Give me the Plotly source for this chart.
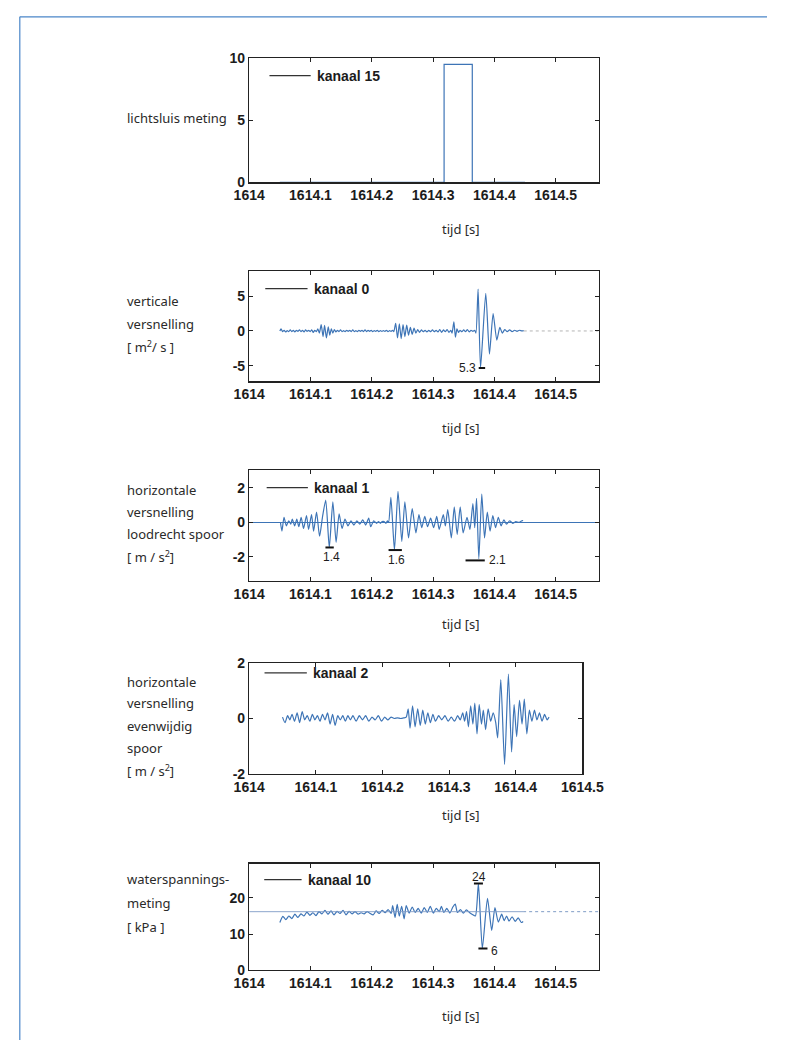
import plotly.graph_objects as go

# ---------------- data ----------------
X_TICKS = [1614.0, 1614.1, 1614.2, 1614.3, 1614.4, 1614.5]
X_TICK_TEXT = ["1614", "1614.1", "1614.2", "1614.3", "1614.4", "1614.5"]

# kanaal 15 - lichtsluis meting
k15_t = [1614.050, 1614.318, 1614.318, 1614.364, 1614.364, 1614.450]
k15_v = [0, 0, 9.5, 9.5, 0, 0]

# kanaal 0 - verticale versnelling
k0_t = [1614.0500, 1614.0520, 1614.0545, 1614.0570, 1614.0595, 1614.0620, 1614.0645, 1614.0670,
        1614.0695, 1614.0720, 1614.0745, 1614.0770, 1614.0795, 1614.0820, 1614.0845, 1614.0870,
        1614.0895, 1614.0920, 1614.0945, 1614.0970, 1614.0995, 1614.1020, 1614.1045, 1614.1070,
        1614.1095, 1614.1120, 1614.1145, 1614.1175, 1614.1205, 1614.1230, 1614.1260, 1614.1290,
        1614.1315, 1614.1340, 1614.1365, 1614.1390, 1614.1415, 1614.1440, 1614.1465, 1614.1490,
        1614.1515, 1614.1540, 1614.1565, 1614.1590, 1614.1615, 1614.1640, 1614.1665, 1614.1690,
        1614.1715, 1614.1740, 1614.1765, 1614.1790, 1614.1815, 1614.1840, 1614.1865, 1614.1890,
        1614.1915, 1614.1940, 1614.1965, 1614.1990, 1614.2015, 1614.2040, 1614.2065, 1614.2090,
        1614.2115, 1614.2140, 1614.2165, 1614.2190, 1614.2215, 1614.2240, 1614.2265, 1614.2290,
        1614.2315, 1614.2340, 1614.2360, 1614.2390, 1614.2420, 1614.2450, 1614.2480, 1614.2510,
        1614.2540, 1614.2570, 1614.2600, 1614.2630, 1614.2660, 1614.2690, 1614.2720, 1614.2750,
        1614.2780, 1614.2810, 1614.2840, 1614.2870, 1614.2900, 1614.2930, 1614.2960, 1614.2990,
        1614.3020, 1614.3050, 1614.3080, 1614.3110, 1614.3140, 1614.3170, 1614.3200, 1614.3230,
        1614.3260, 1614.3290, 1614.3310, 1614.3340, 1614.3365, 1614.3390, 1614.3415, 1614.3440,
        1614.3470, 1614.3500, 1614.3530, 1614.3560, 1614.3590, 1614.3620, 1614.3650, 1614.3680,
        1614.3700, 1614.3735, 1614.3775, 1614.3860, 1614.3920, 1614.3980, 1614.4040, 1614.4090,
        1614.4130, 1614.4170, 1614.4210, 1614.4250, 1614.4290, 1614.4330, 1614.4370, 1614.4410,
        1614.4450, 1614.4480]
k0_v = [0.0, 0.3, -0.1, 0.1, -0.15, 0.05, -0.1, 0.15,
        -0.1, 0.1, -0.15, 0.1, -0.05, 0.15, -0.1, 0.1,
        -0.15, 0.15, -0.05, 0.1, -0.1, 0.15, -0.2, 0.1,
        -0.1, 0.3, -0.3, 0.9, -0.8, 0.8, -1.0, 0.6,
        -0.6, 0.3, -0.3, 0.2, -0.15, 0.1, -0.1, 0.15,
        -0.1, 0.05, -0.1, 0.1, -0.05, 0.1, -0.1, 0.15,
        -0.1, 0.05, -0.1, 0.1, -0.05, 0.1, -0.1, 0.15,
        -0.1, 0.1, -0.05, 0.1, -0.1, 0.05, -0.05, 0.1,
        -0.1, 0.05, -0.05, 0.05, -0.05, 0.1, -0.1, 0.05,
        -0.05, 0.1, -0.1, 1.1, -1.0, 1.0, -1.1, 0.9,
        -0.8, 0.85, -0.6, 0.5, -0.5, 0.4, -0.3, 0.2,
        -0.2, 0.15, -0.1, 0.1, -0.15, 0.1, -0.1, 0.15,
        -0.1, 0.1, -0.15, 0.2, -0.2, 0.15, -0.1, 0.2,
        -0.2, 0.1, -0.3, 1.3, -0.9, 0.3, -0.2, 0.1,
        -0.1, 0.15, -0.1, 0.2, -0.15, 0.1, -0.05, 0.1,
        -0.3, 6.0, -5.3, 5.4, -3.3, 2.5, -1.3, 0.5,
        -0.3, 0.2, -0.1, 0.15, -0.1, 0.1, -0.05, 0.1,
        0.0, 0.05]

# kanaal 1 - horizontale versnelling loodrecht spoor
k1_t = [1614.0510, 1614.0534, 1614.0568, 1614.0607, 1614.0645, 1614.0679, 1614.0703, 1614.0742,
        1614.0776, 1614.0810, 1614.0848, 1614.0887, 1614.0935, 1614.0969, 1614.1017, 1614.1051,
        1614.1099, 1614.1148, 1614.1195, 1614.1249, 1614.1307, 1614.1365, 1614.1418, 1614.1467,
        1614.1515, 1614.1563, 1614.1611, 1614.1660, 1614.1708, 1614.1756, 1614.1805, 1614.1853,
        1614.1901, 1614.1950, 1614.1983, 1614.2032, 1614.2080, 1614.2110, 1614.2140, 1614.2170,
        1614.2200, 1614.2230, 1614.2255, 1614.2275, 1614.2312, 1614.2370, 1614.2428, 1614.2490,
        1614.2540, 1614.2600, 1614.2660, 1614.2720, 1614.2770, 1614.2815, 1614.2865, 1614.2910,
        1614.2960, 1614.3010, 1614.3060, 1614.3100, 1614.3167, 1614.3201, 1614.3240, 1614.3298,
        1614.3346, 1614.3394, 1614.3443, 1614.3491, 1614.3554, 1614.3602, 1614.3650, 1614.3680,
        1614.3710, 1614.3747, 1614.3795, 1614.3840, 1614.3885, 1614.3930, 1614.3975, 1614.4020,
        1614.4065, 1614.4110, 1614.4155, 1614.4200, 1614.4250, 1614.4300, 1614.4350, 1614.4400,
        1614.4450, 1614.4470]
k1_v = [0.0, -0.5, 0.3, -0.2, 0.1, -0.1, 0.2, -0.2,
        0.2, -0.25, 0.3, -0.35, 0.4, -0.4, 0.45, -0.5,
        0.6, -0.8, 0.3, 1.3, -1.45, 1.2, -1.15, 0.5,
        -0.35, 0.2, -0.2, 0.1, -0.15, 0.1, -0.1, 0.15,
        -0.15, 0.25, -0.25, 0.1, -0.05, 0.05, -0.05, 0.05,
        0.05, -0.05, 0.1, 0.0, 1.45, -1.6, 1.8, -1.1,
        1.2, -0.9, 0.8, -0.6, 0.45, -0.3, 0.35, -0.25,
        0.25, -0.3, 0.35, -0.4, 0.45, -0.2, 0.75, -0.9,
        0.9, -0.7, 0.9, -0.6, 0.3, -0.4, 1.1, -0.3,
        1.4, -2.1, 1.65, -0.9, 0.6, -0.5, 0.4, -0.3,
        0.3, -0.2, 0.15, -0.1, 0.1, -0.05, 0.05, 0.0,
        0.1, 0.1]

# kanaal 2 - horizontale versnelling evenwijdig spoor
k2_t = [1614.0500, 1614.0538, 1614.0576, 1614.0610, 1614.0643, 1614.0681, 1614.0719, 1614.0757,
        1614.0795, 1614.0833, 1614.0871, 1614.0910, 1614.0948, 1614.0986, 1614.1024, 1614.1062,
        1614.1100, 1614.1138, 1614.1176, 1614.1214, 1614.1252, 1614.1290, 1614.1329, 1614.1367,
        1614.1405, 1614.1443, 1614.1481, 1614.1519, 1614.1557, 1614.1605, 1614.1652, 1614.1700,
        1614.1748, 1614.1795, 1614.1843, 1614.1890, 1614.1938, 1614.1986, 1614.2033, 1614.2081,
        1614.2129, 1614.2176, 1614.2224, 1614.2271, 1614.2319, 1614.2357, 1614.2386, 1614.2414,
        1614.2452, 1614.2490, 1614.2529, 1614.2567, 1614.2605, 1614.2643, 1614.2681, 1614.2719,
        1614.2757, 1614.2795, 1614.2843, 1614.2890, 1614.2938, 1614.2986, 1614.3033, 1614.3081,
        1614.3129, 1614.3167, 1614.3205, 1614.3233, 1614.3262, 1614.3290, 1614.3324, 1614.3357,
        1614.3386, 1614.3419, 1614.3452, 1614.3486, 1614.3514, 1614.3548, 1614.3586, 1614.3624,
        1614.3662, 1614.3700, 1614.3729, 1614.3776, 1614.3833, 1614.3890, 1614.3938, 1614.3976,
        1614.4014, 1614.4057, 1614.4095, 1614.4129, 1614.4167, 1614.4205, 1614.4243, 1614.4281,
        1614.4319, 1614.4357, 1614.4395, 1614.4433, 1614.4471, 1614.4500]
k2_v = [0.05, -0.15, 0.1, -0.05, 0.15, -0.1, 0.2, -0.15,
        0.25, -0.05, 0.1, -0.1, 0.15, -0.05, 0.1, -0.1,
        0.15, -0.05, 0.2, -0.2, 0.15, -0.25, 0.1, -0.05,
        0.1, -0.1, 0.1, -0.05, 0.1, -0.1, 0.1, -0.05,
        0.1, -0.1, 0.05, -0.05, 0.1, -0.1, 0.05, -0.05,
        0.05, 0.0, 0.02, 0.0, 0.02, 0.05, 0.35, -0.35,
        0.45, -0.3, 0.35, -0.25, 0.3, -0.2, 0.2, -0.15,
        0.15, -0.1, 0.1, -0.05, 0.1, -0.1, 0.05, -0.1,
        0.1, -0.05, 0.2, -0.1, 0.25, -0.3, 0.45, -0.2,
        0.55, -0.55, 0.5, -0.2, 0.3, -0.4, 0.35, -0.1,
        0.2, -0.15, -0.7, 1.4, -1.65, 1.6, -1.2, 0.5,
        -0.65, 0.65, -0.2, 0.7, -0.55, 0.3, -0.1, 0.3,
        -0.05, 0.2, -0.1, 0.15, -0.05, 0.05]

# kanaal 10 - waterspanningsmeting
k10_t = [1614.0500, 1614.0549, 1614.0598, 1614.0647, 1614.0696, 1614.0745, 1614.0795, 1614.0844,
         1614.0893, 1614.0942, 1614.0991, 1614.1040, 1614.1089, 1614.1138, 1614.1187, 1614.1236,
         1614.1285, 1614.1335, 1614.1384, 1614.1433, 1614.1482, 1614.1531, 1614.1580, 1614.1629,
         1614.1678, 1614.1727, 1614.1776, 1614.1825, 1614.1875, 1614.1924, 1614.1973, 1614.2022,
         1614.2071, 1614.2120, 1614.2169, 1614.2218, 1614.2267, 1614.2316, 1614.2341, 1614.2380,
         1614.2415, 1614.2449, 1614.2488, 1614.2528, 1614.2562, 1614.2611, 1614.2660, 1614.2709,
         1614.2758, 1614.2807, 1614.2856, 1614.2906, 1614.2955, 1614.3004, 1614.3053, 1614.3102,
         1614.3136, 1614.3176, 1614.3225, 1614.3274, 1614.3323, 1614.3362, 1614.3397, 1614.3446,
         1614.3495, 1614.3544, 1614.3593, 1614.3642, 1614.3691, 1614.3740, 1614.3804, 1614.3888,
         1614.3957, 1614.4010, 1614.4065, 1614.4120, 1614.4160, 1614.4200, 1614.4240, 1614.4290,
         1614.4340, 1614.4390, 1614.4440, 1614.4470]
k10_v = [13.2, 14.9, 14.0, 15.0, 14.3, 15.5, 14.6, 15.6,
         15.0, 16.1, 15.2, 15.9, 15.1, 16.2, 15.6, 16.6,
         15.5, 16.4, 15.3, 16.3, 15.7, 16.6, 15.3, 16.3,
         15.6, 16.2, 15.5, 15.9, 15.6, 16.2, 15.7, 15.3,
         16.4, 15.7, 16.6, 15.9, 16.8, 15.7, 17.9, 14.6,
         18.2, 15.0, 17.7, 14.2, 17.9, 15.8, 17.5, 16.0,
         17.1, 15.8, 17.3, 16.0, 17.7, 15.8, 17.1, 16.2,
         17.7, 16.0, 17.1, 15.8, 17.5, 18.3, 16.0, 16.8,
         15.8, 16.7, 16.0, 15.4, 15.0, 24.0, 6.0, 19.9,
         11.0, 17.3, 13.3, 15.5, 13.7, 15.0, 13.6, 14.8,
         13.5, 14.5, 13.2, 13.5]
k10_mean = 16.2

# black peak markers: (panel, y, t_start, t_end)
mark_panel = [2, 3, 3, 3, 5, 5]
mark_y = [-5.3, -1.45, -1.6, -2.2, 24.0, 6.0]
mark_t0 = [1614.3745, 1614.1244, 1614.2274, 1614.3530, 1614.3667, 1614.3740]
mark_t1 = [1614.3850, 1614.1380, 1614.2491, 1614.3844, 1614.3814, 1614.3888]
# peak labels
lab_panel = [2, 3, 3, 3, 5, 5]
lab_text = ["5.3", "1.4", "1.6", "2.1", "24", "6"]
lab_t = [1614.3735, 1614.1335, 1614.2400, 1614.3880, 1614.3745, 1614.3912]
lab_y = [-5.3, -2.0, -2.2, -2.2, 25.8, 5.2]
lab_anchor = ["right", "center", "center", "left", "center", "left"]

legend_names = ["kanaal 15", "kanaal 0", "kanaal 1", "kanaal 2", "kanaal 10"]

y_ranges = [[0, 10], [-7.2, 8.6], [-3.4, 3.05], [-2, 2], [0, 29.5]]
y_ticks = [[0, 5, 10], [-5, 0, 5], [-2, 0, 2], [-2, 0, 2], [0, 10, 20]]
y_tick_text = [["0", "5", "10"], ["-5", "0", "5"], ["-2", "0", "2"], ["-2", "0", "2"], ["0", "10", "20"]]
x_ranges = [[1614, 1614.57], [1614, 1614.57], [1614, 1614.57], [1614, 1614.5], [1614, 1614.57]]

y_labels = [
    ["lichtsluis meting"],
    ["verticale", "versnelling", "[ m<sup>2</sup>/ s ]"],
    ["horizontale", "versnelling", "loodrecht spoor", "[ m / s<sup>2</sup>]"],
    ["horizontale", "versnelling", "evenwijdig", "spoor", "[ m / s<sup>2</sup>]"],
    ["waterspannings-", "meting", "[ kPa ]"],
]
x_title = "tijd [s]"

# ---------------- layout geometry (pixels) ----------------
W, H = 789, 1048
boxes = [  # left, right, top, bottom
    (245, 612, 51, 177),
    (245, 612, 267, 379),
    (245, 612, 469, 582),
    (245, 595, 665, 778),
    (245, 612, 869, 977),
]
ylabel_rows = [[112], [298, 321, 344], [489, 512, 534, 557], [684, 706, 729, 751, 774], [885, 909, 933]]
xtitle_rows = [224, 427, 626, 820, 1024]
legend_pos = [  # line x0, x1, y (domain fractions)
    (0.058, 0.176, 0.86),
    (0.046, 0.167, 0.84),
    (0.050, 0.168, 0.84),
    (0.046, 0.173, 0.91),
    (0.043, 0.150, 0.85),
]

BLUE = "#3d74b6"
AX = "#222222"
TICKFONT = dict(family="Liberation Sans, Arial, sans-serif", size=14, color="#1c1c1c", weight="bold")
LABFONT = dict(family="Noto Sans, Open Sans, sans-serif", size=13, color="#2a2a2a")

fig = go.Figure()
series = [(k15_t, k15_v), (k0_t, k0_v), (k1_t, k1_v), (k2_t, k2_v), (k10_t, k10_v)]
shapes_kind = ["linear", "spline", "spline", "spline", "spline"]

layout = dict(width=W, height=H, margin=dict(l=0, r=0, t=0, b=0),
              paper_bgcolor="white", plot_bgcolor="white", showlegend=False)
shapes = []
annotations = []

for i in range(5):
    n = i + 1
    xa = "x" if n == 1 else f"x{n}"
    ya = "y" if n == 1 else f"y{n}"
    l, r, t, b = boxes[i]
    common = dict(showline=True, linecolor=AX, linewidth=1.3, mirror="allticks",
                  ticks="inside", ticklen=4, tickcolor=AX, tickwidth=1,
                  showgrid=False, zeroline=False, tickfont=TICKFONT, fixedrange=True)
    layout["xaxis" if n == 1 else f"xaxis{n}"] = dict(
        domain=[l / W, r / W], range=x_ranges[i], anchor=ya,
        tickvals=X_TICKS, ticktext=X_TICK_TEXT, **common)
    layout["yaxis" if n == 1 else f"yaxis{n}"] = dict(
        domain=[1 - b / H, 1 - t / H], range=y_ranges[i], anchor=xa,
        tickvals=y_ticks[i], ticktext=y_tick_text[i], **common)

    tt, vv = series[i]
    fig.add_trace(go.Scatter(x=tt, y=vv, mode="lines", xaxis=xa, yaxis=ya,
                             line=dict(color=BLUE, width=1.2, shape=shapes_kind[i], smoothing=0.6),
                             hoverinfo="skip"))

    # legend (line sample + text)
    lx0, lx1, ly = legend_pos[i]
    shapes.append(dict(type="line", xref=f"{xa} domain", yref=f"{ya} domain",
                       x0=lx0, x1=lx1, y0=ly, y1=ly, line=dict(color="#333333", width=1.3)))
    annotations.append(dict(xref=f"{xa} domain", yref=f"{ya} domain", x=lx1 + 0.012, y=ly,
                            text=legend_names[i], showarrow=False, xanchor="left", yanchor="middle",
                            font=dict(family="Liberation Sans, Arial, sans-serif", size=14,
                                      color="#1c1c1c", weight="bold")))
    # y label lines
    for txt, py in zip(y_labels[i], ylabel_rows[i]):
        annotations.append(dict(xref="paper", yref="paper", x=115 / W, y=1 - py / H, text=txt,
                                showarrow=False, xanchor="left", yanchor="middle", font=LABFONT))
    # x title
    annotations.append(dict(xref="paper", yref="paper", x=467 / W, y=1 - xtitle_rows[i] / H,
                            text=x_title, showarrow=False, xanchor="center", yanchor="middle",
                            font=LABFONT))

# reference lines
fig.add_trace(go.Scatter(x=[x_ranges[2][0], x_ranges[2][1]], y=[0, 0], mode="lines",
                         xaxis="x3", yaxis="y3", line=dict(color=BLUE, width=1.1), hoverinfo="skip"))
fig.add_trace(go.Scatter(x=[x_ranges[4][0], k10_t[-1]], y=[k10_mean, k10_mean], mode="lines",
                         xaxis="x5", yaxis="y5", line=dict(color="#7f9cc6", width=0.9), hoverinfo="skip"))
fig.add_trace(go.Scatter(x=[k10_t[-1], x_ranges[4][1]], y=[k10_mean, k10_mean], mode="lines",
                         xaxis="x5", yaxis="y5", line=dict(color="#7f9cc6", width=1, dash="dot"),
                         hoverinfo="skip"))
fig.add_trace(go.Scatter(x=[k0_t[-1], x_ranges[1][1]], y=[0, 0], mode="lines",
                         xaxis="x2", yaxis="y2", line=dict(color="#b5b5b5", width=1, dash="dot"),
                         hoverinfo="skip"))

# peak markers
for p, yv, a, bb in zip(mark_panel, mark_y, mark_t0, mark_t1):
    shapes.append(dict(type="line", xref=f"x{p}", yref=f"y{p}", x0=a, x1=bb, y0=yv, y1=yv,
                       line=dict(color="#111111", width=2)))
for p, txt, tx, ty, anc in zip(lab_panel, lab_text, lab_t, lab_y, lab_anchor):
    annotations.append(dict(xref=f"x{p}", yref=f"y{p}", x=tx, y=ty, text=txt, showarrow=False,
                            xanchor=anc, yanchor="middle",
                            font=dict(family="Liberation Sans, Arial, sans-serif", size=12,
                                      color="#1c1c1c")))

# page frame (blue border)
shapes.append(dict(type="line", xref="paper", yref="paper", x0=4 / W, x1=1, y0=1 - 9 / H, y1=1 - 9 / H,
                   line=dict(color="#4a86c8", width=1.2)))
shapes.append(dict(type="line", xref="paper", yref="paper", x0=4 / W, x1=4 / W, y0=0, y1=1 - 9 / H,
                   line=dict(color="#4a86c8", width=1.2)))

layout["shapes"] = shapes
layout["annotations"] = annotations
fig.update_layout(**layout)
fig.write_html("out.html", config={"displayModeBar": False, "staticPlot": True},
               post_script="document.body.style.margin='0';document.body.style.overflow='hidden';"
                           "document.documentElement.style.overflow='hidden';")
